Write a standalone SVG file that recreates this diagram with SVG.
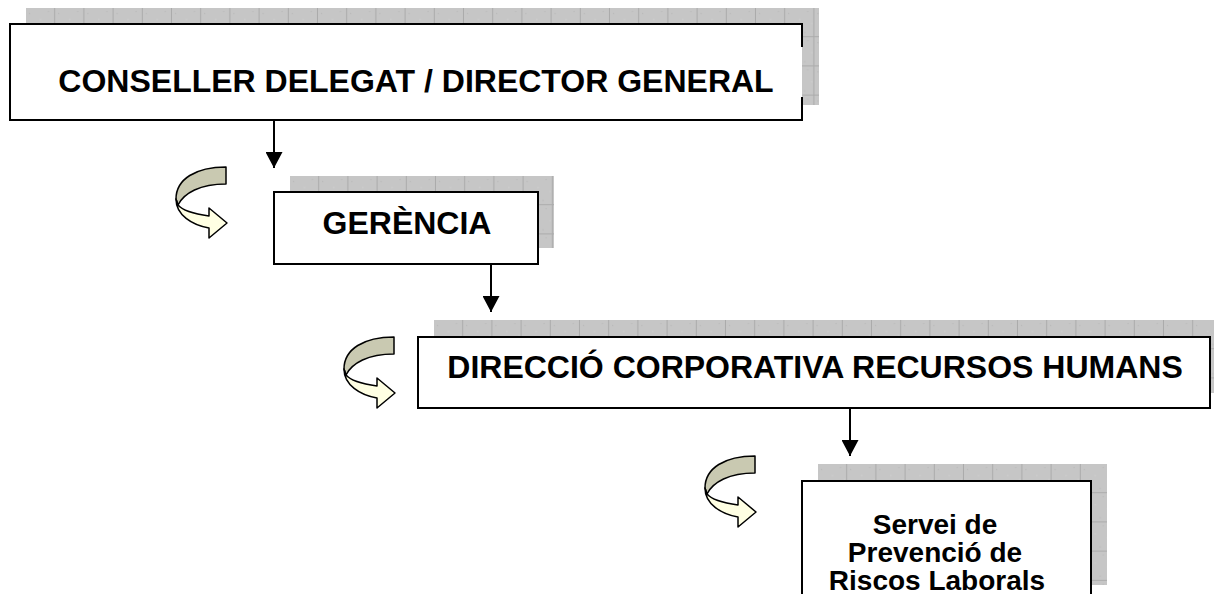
<svg xmlns="http://www.w3.org/2000/svg" width="1214" height="594" viewBox="0 0 1214 594">
  <style>
    .box { fill: #ffffff; stroke: #000000; stroke-width: 2; }
    .edge { fill: none; stroke: #000000; stroke-width: 2; }
    .lbl { font-family: "Liberation Sans", Arial, sans-serif; font-weight: bold; fill: #000000; text-anchor: middle; }
    .big { font-size: 32px; }
    .small { font-size: 28px; }
    .conn { stroke: #000000; stroke-width: 2; fill: none; }
    .back { fill: #c9c9b1; stroke: #000000; stroke-width: 1.5; stroke-linejoin: round; }
    .front { fill: #ffffe3; stroke: #000000; stroke-width: 1.5; stroke-linejoin: round; }
    .shadow { fill: url(#grid); }
  </style>
  <defs>
    <pattern id="grid" patternUnits="userSpaceOnUse" x="0" y="0" width="29.2" height="29.2">
      <rect x="0" y="0" width="29.2" height="29.2" fill="#c6c6c6"/>
      <rect x="3" y="5" width="1" height="1" fill="#b4b4b4"/>
      <rect x="14" y="11" width="1" height="1" fill="#d4d4d4"/>
      <rect x="22" y="3" width="1" height="1" fill="#b6b6b6"/>
      <rect x="8" y="20" width="1" height="1" fill="#d2d2d2"/>
      <rect x="19" y="24" width="1" height="1" fill="#b5b5b5"/>
      <rect x="26" y="15" width="1" height="1" fill="#d3d3d3"/>
      <path d="M28.7 0 V29.2 M0 28.7 H29.2" stroke="#ababab" stroke-width="1"/>
    </pattern>
    <marker id="ah" markerUnits="userSpaceOnUse" markerWidth="18" markerHeight="17" refX="16" refY="8.5" orient="auto">
      <path d="M0,0 L16,8.5 L0,17 Z" fill="#000000"/>
    </marker>
    <g id="curl">
      <path class="back" d="M50,0 C20,0 0,12 0,32 L2,38 C8,26 24,17 50,17 Z"/>
      <path class="front" d="M0,32 C0,48 16,58 33,61 L33,71 L51,56 L33,41 L33,49 C19,47 7,44 2,38 Z"/>
    </g>
  </defs>

  <!-- Decorative curved arrows -->
  <g id="curls">
    <use href="#curl" transform="translate(176,167)"/>
    <use href="#curl" transform="translate(344,337)"/>
    <use href="#curl" transform="translate(705,456)"/>
  </g>

  <!-- Node 1 -->
  <g id="node-conseller">
    <g transform="translate(26,8)"><rect class="shadow" x="0" y="0" width="793" height="97"/></g>
    <rect x="10" y="24" width="792" height="96" fill="#ffffff"/>
    <path class="edge" d="M802,47 V24 H10 V120 H802 V97"/>
    <text class="lbl big" x="416" y="92">CONSELLER DELEGAT / DIRECTOR GENERAL</text>
  </g>

  <!-- Node 2 -->
  <g id="node-gerencia">
    <g transform="translate(290,176)"><rect class="shadow" x="0" y="0" width="264" height="72"/></g>
    <rect class="box" x="274" y="192" width="264" height="72"/>
    <text class="lbl big" x="407" y="234">GERÈNCIA</text>
  </g>

  <!-- Node 3 -->
  <g id="node-direccio">
    <g transform="translate(434,320)"><rect class="shadow" x="0" y="0" width="790" height="73"/></g>
    <rect class="box" x="418" y="337" width="792" height="71"/>
    <text class="lbl big" x="815" y="378">DIRECCIÓ CORPORATIVA RECURSOS HUMANS</text>
  </g>

  <!-- Node 4 -->
  <g id="node-servei">
    <g transform="translate(818,464)"><rect class="shadow" x="0" y="0" width="289" height="121"/></g>
    <rect class="box" x="802" y="481" width="289" height="130"/>
    <text class="lbl small" x="935" y="534">Servei de</text>
    <text class="lbl small" x="935" y="562">Prevenció de</text>
    <text class="lbl small" x="937" y="590">Riscos Laborals</text>
  </g>

  <!-- Connectors -->
  <g id="connectors">
    <line class="conn" x1="274" y1="120" x2="274" y2="168" marker-end="url(#ah)"/>
    <line class="conn" x1="491" y1="264" x2="491" y2="312" marker-end="url(#ah)"/>
    <line class="conn" x1="850" y1="408" x2="850" y2="456" marker-end="url(#ah)"/>
  </g>
</svg>
